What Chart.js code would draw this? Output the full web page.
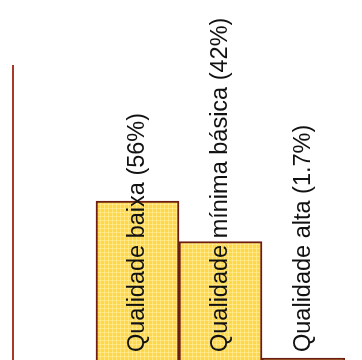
<!DOCTYPE html>
<html>
<head>
<meta charset="utf-8">
<script src="https://cdn.jsdelivr.net/npm/chart.js@4.4.1/dist/chart.umd.min.js"></script>
<style>
  html, body { margin: 0; padding: 0; background: #fff; overflow: hidden; }
  #wrap { width: 362px; height: 360px; }
</style>
</head>
<body>
<div id="wrap"><canvas id="myChart" width="362" height="360"></canvas></div>
<script>
'use strict';

// categories (first slot is an empty gap, as in the picture)
var categories = ['', 'Qualidade baixa', 'Qualidade mínima básica', 'Qualidade alta'];
var shares = [null, 56, 42, 1.7];
var shareLabels = ['', '56%', '42%', '1.7%'];

// yellow checked fill like the original
function makePattern() {
   var c = document.createElement('canvas');
   c.width = 4; c.height = 4;
   var g = c.getContext('2d');
   g.fillStyle = '#ffd84a';
   g.fillRect(0, 0, 4, 4);
   g.fillStyle = 'rgba(255,240,170,0.55)';
   g.fillRect(0, 0, 4, 1);
   g.fillRect(0, 0, 1, 4);
   return g.createPattern(c, 'repeat');
}

// rotated labels written inside the bars
var barLabels = {
   id: 'barLabels',
   afterDatasetsDraw: function (chart) {
      var ctx = chart.ctx;
      var meta = chart.getDatasetMeta(0);
      ctx.save();
      ctx.fillStyle = '#111';
      ctx.font = '23.5px "Liberation Sans", Arial, sans-serif';
      ctx.textAlign = 'left';
      ctx.textBaseline = 'alphabetic';
      meta.data.forEach(function (bar, i) {
         if (!categories[i]) return;
         ctx.save();
         ctx.translate(bar.x + 6, chart.chartArea.bottom - 8);
         ctx.rotate(-Math.PI / 2);
         ctx.fillText(categories[i] + ' (' + shareLabels[i] + ')', 0, 0);
         ctx.restore();
      });
      ctx.restore();
   }
};

var ctx = document.getElementById('myChart');
var myChart = new Chart(ctx, {
   type: 'bar',
   data: {
      labels: categories,
      datasets: [{
         data: shares,
         backgroundColor: makePattern(),
         borderColor: '#6e1e10',
         borderWidth: 2,
         borderSkipped: 'start',
         barPercentage: 1,
         categoryPercentage: 1
      }]
   },
   options: {
      responsive: false,
      animation: false,
      layout: { padding: { top: 66, left: 13, right: 17, bottom: 0 } },
      plugins: { legend: { display: false }, tooltip: { enabled: false } },
      scales: {
         x: { display: false },
         y: {
            min: 1,
            max: 102.7,
            ticks: { display: false },
            grid: { display: false, drawTicks: false },
            border: { display: true, color: '#a8382a', width: 2 }
         }
      }
   },
   plugins: [barLabels]
});
</script>
</body>
</html>
